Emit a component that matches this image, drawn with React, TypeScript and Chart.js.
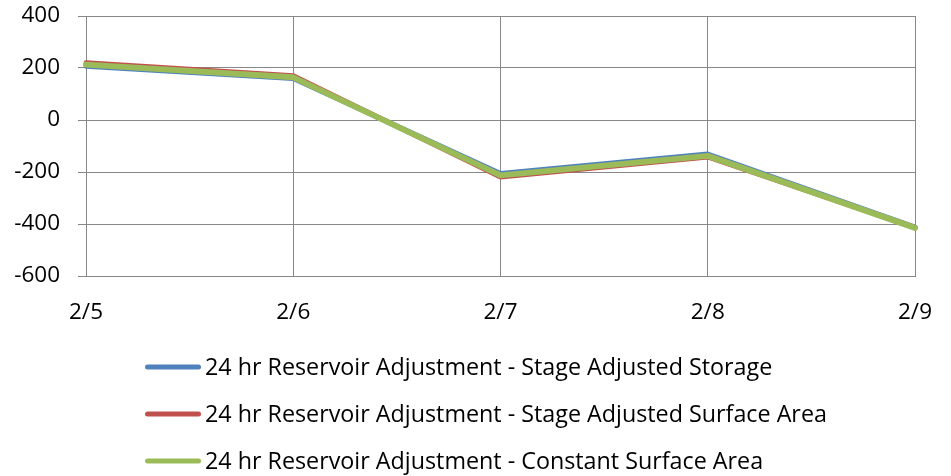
import React, { useEffect, useRef } from "react";
import { Chart, registerables } from "chart.js";

Chart.register(...registerables);

const categories = ["2/5", "2/6", "2/7", "2/8", "2/9"];
const seriesNames = [
  "24 hr Reservoir Adjustment - Stage Adjusted Storage",
  "24 hr Reservoir Adjustment - Stage Adjusted Surface Area",
  "24 hr Reservoir Adjustment - Constant Surface Area",
];
const stageAdjustedStorage = [207, 160, -206, -131, -412];
const stageAdjustedSurfaceArea = [220, 170, -219, -142, -414];
const constantSurfaceArea = [213, 164, -213, -138, -415];
const seriesColors = ["#4F81BD", "#C0504D", "#9BBB59"];
const seriesWidths = [5, 5, 6];
const yTicks = { min: -600, max: 400, step: 200 };

const FONT = "'Open Sans'";

const legendPlugin = {
  id: "rowLegend",
  afterDraw(chart: any) {
    const ctx = chart.ctx;
    const area = chart.chartArea;
    const startX = area.left + 59;
    const lineLen = 56;
    const firstY = area.bottom + 91;
    const rowGap = 47;
    ctx.save();
    chart.data.datasets.forEach((ds: any, i: number) => {
      const y = firstY + i * rowGap;
      ctx.beginPath();
      ctx.strokeStyle = ds.borderColor;
      ctx.lineWidth = 5;
      ctx.lineCap = "round";
      ctx.moveTo(startX + 2.5, y);
      ctx.lineTo(startX + lineLen - 2.5, y);
      ctx.stroke();
      ctx.fillStyle = "#000000";
      ctx.font = `23.3px ${FONT}`;
      ctx.textBaseline = "middle";
      ctx.textAlign = "left";
      ctx.fillText(ds.label, startX + lineLen + 4, y + 1);
    });
    ctx.restore();
  },
};

export default function App() {
  const ref = useRef<HTMLCanvasElement | null>(null);
  useEffect(() => {
    if (!ref.current) return;
    const values = [stageAdjustedStorage, stageAdjustedSurfaceArea, constantSurfaceArea];
    const orders = [2, 1, 0];
    const chart = new Chart(ref.current, {
      type: "line",
      data: {
        labels: categories,
        datasets: values.map((v, i) => ({
          label: seriesNames[i],
          data: v,
          borderColor: seriesColors[i],
          backgroundColor: seriesColors[i],
          borderWidth: seriesWidths[i],
          pointRadius: 0,
          tension: 0,
          borderCapStyle: "round" as const,
          borderJoinStyle: "round" as const,
          fill: false,
          order: orders[i],
        })),
      },
      options: {
        animation: false,
        responsive: true,
        maintainAspectRatio: false,
        layout: { padding: { top: 16, left: 0, right: 36, bottom: 130 } },
        plugins: {
          legend: { display: false },
          tooltip: { enabled: false },
        },
        scales: {
          x: {
            type: "category",
            offset: false,
            grid: { color: "#878787", lineWidth: 1, drawTicks: false },
            border: { color: "#878787", width: 1 },
            ticks: {
              color: "#000000",
              font: { family: FONT, size: 22.5 },
              padding: 23,
              maxRotation: 0,
              autoSkip: false,
            },
            afterFit: (s: any) => {
              s.height = 70;
              s.paddingLeft = 0;
              s.paddingRight = 0;
            },
          },
          y: {
            min: yTicks.min,
            max: yTicks.max,
            grid: { color: "#878787", lineWidth: 1, tickLength: 8 },
            border: { color: "#878787", width: 1 },
            ticks: {
              stepSize: yTicks.step,
              color: "#000000",
              font: { family: FONT, size: 22.5 },
              padding: 18,
            },
            afterFit: (s: any) => {
              s.width = 86;
              s.paddingTop = 0;
              s.paddingBottom = 0;
            },
          },
        },
      },
      plugins: [legendPlugin],
    });
    return () => chart.destroy();
  }, []);
  return (
    <div style={{ position: "fixed", left: 0, top: 0, width: 951, height: 476, background: "#ffffff" }}>
      <canvas ref={ref} />
    </div>
  );
}
